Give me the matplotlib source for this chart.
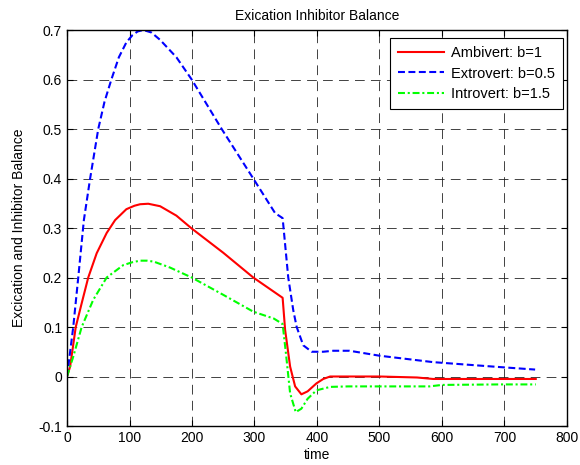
import matplotlib
matplotlib.use("Agg")
import matplotlib.pyplot as plt

plt.rcParams['font.family'] = ['Liberation Sans', 'DejaVu Sans']
plt.rcParams['lines.scale_dashes'] = False

# Ambivert: b=1
t_amb = [0, 5, 14, 23.5, 34, 47.5, 63.5, 77, 95, 108, 117, 130, 149, 175, 199.5, 250, 298, 345,
         349, 357, 365, 375, 385, 399, 410, 421, 450, 500, 560, 586, 650, 700, 750]
v_amb = [0, 0.02, 0.1, 0.148, 0.2, 0.249, 0.29, 0.316, 0.338, 0.345, 0.348, 0.349, 0.344, 0.325, 0.299, 0.25, 0.2, 0.159,
         0.094, 0.02, -0.02, -0.036, -0.03, -0.014, -0.005, 0.0, 0.0, 0.0, -0.002, -0.005, -0.005, -0.005, -0.005]

# Extrovert: b=0.5
t_ext = [0, 2, 10, 18, 27, 37, 50, 60, 71, 83, 95, 105, 113, 122, 135, 149, 175, 199.5, 247.5, 298, 333, 345,
         354, 362, 367.5, 378, 391.5, 410, 426, 452, 500, 586, 650, 693, 749]
v_ext = [0, 0.02, 0.1, 0.2, 0.316, 0.40, 0.50, 0.555, 0.60, 0.645, 0.675, 0.69, 0.697, 0.70, 0.695, 0.68, 0.645, 0.60, 0.50, 0.40, 0.33, 0.32,
         0.2, 0.134, 0.1, 0.063, 0.05, 0.05, 0.052, 0.052, 0.042, 0.029, 0.023, 0.019, 0.014]

# Introvert: b=1.5
t_int = [0, 10, 23.5, 42, 63.5, 90, 105, 117, 128, 139, 165, 199.5, 250, 298, 331, 345,
         350, 357, 366, 375, 385, 399, 421, 450, 500, 580, 600, 693, 750]
v_int = [0, 0.04, 0.1, 0.155, 0.2, 0.225, 0.231, 0.234, 0.234, 0.232, 0.22, 0.2, 0.165, 0.131, 0.117, 0.106,
         0.05, -0.034, -0.072, -0.065, -0.045, -0.028, -0.021, -0.02, -0.02, -0.02, -0.017, -0.016, -0.016]

x_ticks = [0, 100, 200, 300, 400, 500, 600, 700, 800]
y_ticks = [-0.1, 0, 0.1, 0.2, 0.3, 0.4, 0.5, 0.6, 0.7]
y_tick_labels = ['-0.1', '0', '0.1', '0.2', '0.3', '0.4', '0.5', '0.6', '0.7']

fig = plt.figure(figsize=(5.8, 4.65), dpi=100)
ax = fig.add_axes([67 / 580, 39 / 465, 500 / 580, 396 / 465])

ax.plot(t_amb, v_amb, color='#ff0000', lw=1.5, label='Ambivert: b=1')
ax.plot(t_ext, v_ext, color='#0000ff', lw=1.5, linestyle=(0, (5, 2.5)), label='Extrovert: b=0.5')
ax.plot(t_int, v_int, color='#00ff00', lw=1.5, linestyle=(0, (5, 2, 1.5, 2)), label='Introvert: b=1.5')

ax.set_xlim(0, 800)
ax.set_ylim(-0.1, 0.7)
ax.set_xticks(x_ticks)
ax.set_yticks(y_ticks)
ax.set_yticklabels(y_tick_labels)
ax.grid(True, color='#222222', lw=0.6, linestyle=(0, (7, 4.5)))
ax.tick_params(direction='in', top=True, right=True, length=4, labelsize=10, color='k')
for s in ax.spines.values():
    s.set_linewidth(1.0)

ax.set_title('Exication Inhibitor Balance', fontsize=10, pad=7)
ax.set_xlabel('time', fontsize=10, labelpad=2)
ax.set_ylabel('Excication and Inhibitor Balance', fontsize=10, labelpad=9)

# legend in the top right, square black frame
leg = ax.legend(loc='upper right', bbox_to_anchor=(0.992, 0.98), borderaxespad=0,
                fontsize=10.5, fancybox=False, framealpha=1, edgecolor='k',
                handlelength=3.2, handletextpad=0.45, labelspacing=0.45, borderpad=0.55)
leg.get_frame().set_linewidth(0.8)

fig.savefig('out.png', dpi=100)
